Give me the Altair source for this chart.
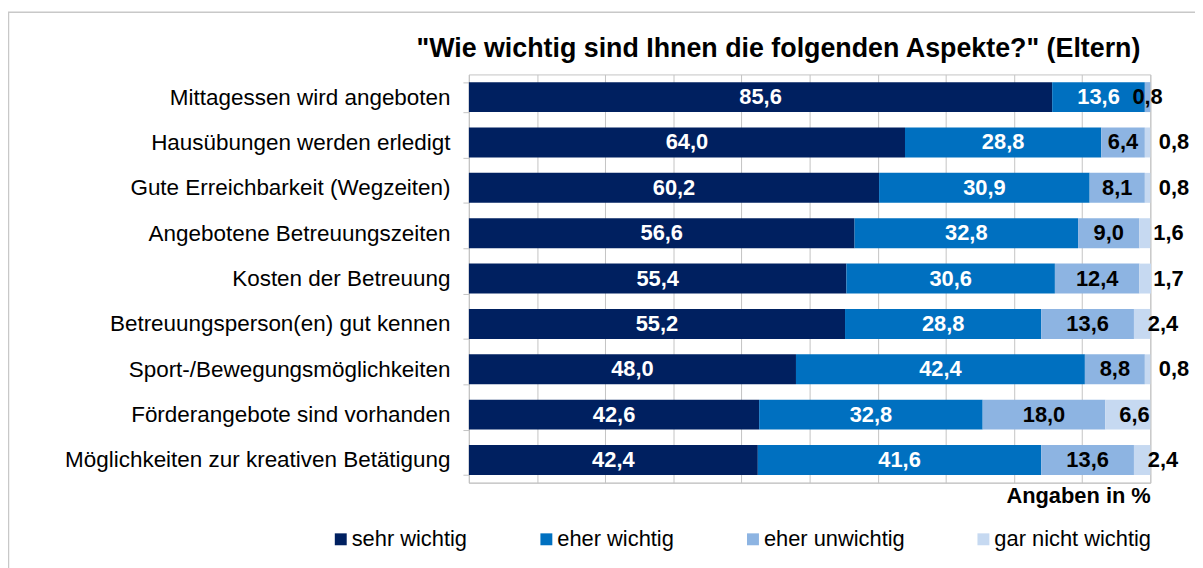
import altair as alt
import pandas as pd

title_text = "\"Wie wichtig sind Ihnen die folgenden Aspekte?\" (Eltern)"
categories = [
    "Mittagessen wird angeboten",
    "Hausübungen werden erledigt",
    "Gute Erreichbarkeit (Wegzeiten)",
    "Angebotene Betreuungszeiten",
    "Kosten der Betreuung",
    "Betreuungsperson(en) gut kennen",
    "Sport-/Bewegungsmöglichkeiten",
    "Förderangebote sind vorhanden",
    "Möglichkeiten zur kreativen Betätigung",
]
series = ["sehr wichtig", "eher wichtig", "eher unwichtig", "gar nicht wichtig"]
sehr_wichtig = [85.6, 64.0, 60.2, 56.6, 55.4, 55.2, 48.0, 42.6, 42.4]
eher_wichtig = [13.6, 28.8, 30.9, 32.8, 30.6, 28.8, 42.4, 32.8, 41.6]
eher_unwichtig = [0.8, 6.4, 8.1, 9.0, 12.4, 13.6, 8.8, 18.0, 13.6]
gar_nicht_wichtig = [0.0, 0.8, 0.8, 1.6, 1.7, 2.4, 0.8, 6.6, 2.4]
colors = ["#002060", "#0070C0", "#8DB4E2", "#C6D9F1"]

rows = []
for i, c in enumerate(categories):
    for j, vals in enumerate([sehr_wichtig, eher_wichtig, eher_unwichtig, gar_nicht_wichtig]):
        v = vals[i]
        rows.append({"cat": c, "series": series[j], "order": j, "value": v,
                     "label": f"{v:.1f}".replace(".", ",")})
df = pd.DataFrame(rows)

FONT = "Liberation Sans"
GRID = "#C4C4C4"
PAD_L = 464
W, H = 686, 411

xscale = alt.Scale(domain=[0, 100], nice=False)
yenc = alt.Y("cat:N", sort=categories,
             scale=alt.Scale(paddingInner=0.34, paddingOuter=0.17),
             axis=alt.Axis(title=None, labelFontSize=22.6, labelColor="black", labelFont=FONT,
                           labelPadding=13, tickSize=6, tickColor=GRID, domainColor=GRID,
                           tickBand="extent", labelLimit=0))

bars = alt.Chart(df).mark_bar().encode(
    x=alt.X("value:Q", stack="zero", scale=xscale,
            axis=alt.Axis(values=list(range(0, 101, 10)), labels=False, ticks=False, grid=True,
                          gridColor=GRID, domainColor=GRID, title="Angaben in %",
                          titleFontSize=22, titleFontWeight="bold", titleFont=FONT,
                          titleColor="black", titleAnchor="end", titlePadding=3)),
    y=yenc,
    color=alt.Color("series:N", sort=series,
                    scale=alt.Scale(domain=series, range=colors),
                    legend=alt.Legend(title=None, orient="none", legendX=-140, legendY=457,
                                      direction="horizontal", columns=4, symbolType="square",
                                      symbolSize=144, symbolStrokeWidth=0, labelFontSize=22,
                                      labelFont=FONT, labelColor="black", labelOffset=0,
                                      columnPadding=68)),
    order=alt.Order("order:Q"),
)

base = alt.Chart(df).transform_window(
    cum="sum(value)", sort=[alt.SortField("order")], groupby=["cat"], frame=[None, 0]
).transform_calculate(
    start="datum.cum - datum.value", mid="datum.cum - datum.value / 2"
).transform_filter("datum.value > 0")

inner = base.transform_filter("datum.order < 3").mark_text(
    font=FONT, fontSize=22, fontWeight="bold", align="center", baseline="middle"
).encode(
    x=alt.X("mid:Q", scale=xscale, stack=None),
    y=alt.Y("cat:N", sort=categories),
    text="label:N",
    color=alt.condition("datum.order < 2", alt.value("white"), alt.value("black")),
)

outer = base.transform_filter("datum.order == 3").mark_text(
    font=FONT, fontSize=22, fontWeight="bold", align="left", baseline="middle", dx=14, color="black"
).encode(
    x=alt.X("start:Q", scale=xscale, stack=None),
    y=alt.Y("cat:N", sort=categories),
    text="label:N",
)

one = pd.DataFrame({"a": [0]})
border = alt.Chart(one).mark_rect(
    fillOpacity=0, stroke="#C8C8C8", strokeWidth=1.5
).encode(x=alt.value(-PAD_L + 0.5), x2=alt.value(800), y=alt.value(-62.5), y2=alt.value(600))

title = alt.Chart(one).mark_text(
    text=title_text, font=FONT, fontSize=27, fontWeight="bold", align="right",
    baseline="middle", color="black"
).encode(x=alt.value(W - 10), y=alt.value(-26))

chart = alt.layer(border, title, bars, inner, outer).properties(
    width=W, height=H,
    autosize=alt.AutoSizeParams(type="none"),
    padding={"left": PAD_L, "top": 65, "right": 45, "bottom": 84},
).configure_view(stroke=GRID)

chart.save("out.html", embed_options={"renderer": "svg", "actions": False})
